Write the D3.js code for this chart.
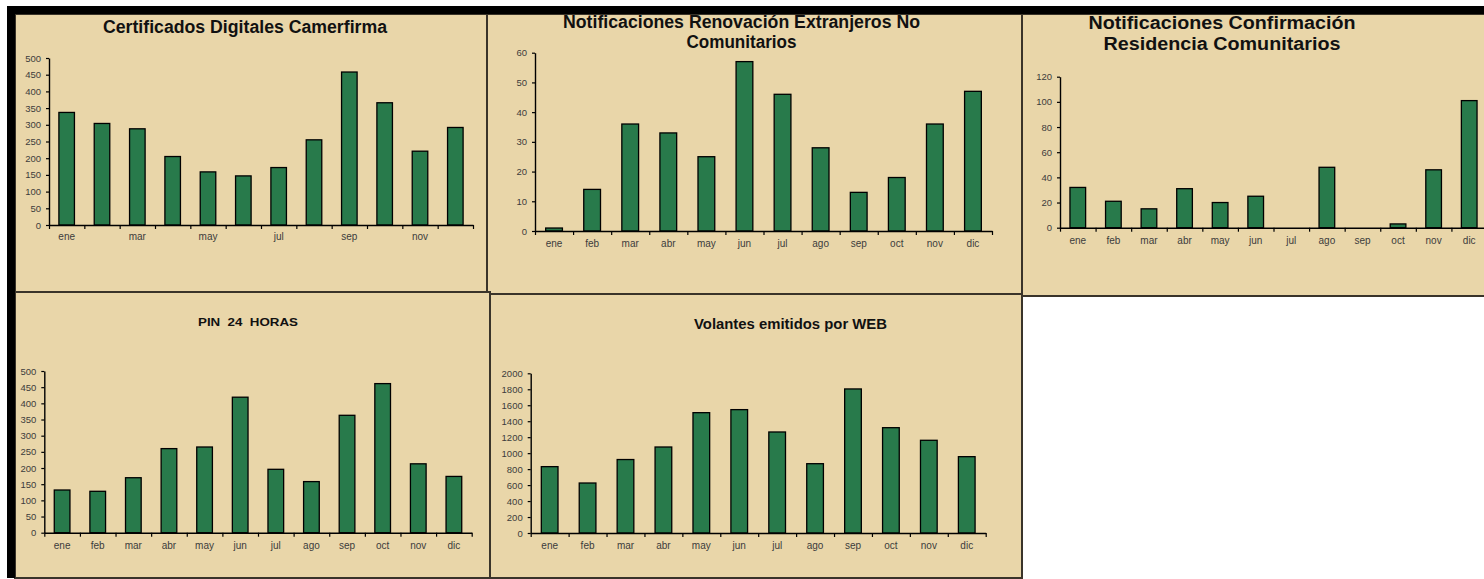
<!DOCTYPE html>
<html>
<head>
<meta charset="utf-8">
<script src="https://cdn.jsdelivr.net/npm/d3@7/dist/d3.min.js"></script>
<style>
  html, body { margin: 0; padding: 0; background: #ffffff; }
  svg { display: block; }
  text { font-family: "Liberation Sans", Arial, sans-serif; }
</style>
</head>
<body>
<svg id="chart" width="1484" height="579"></svg>
<script>
// ---- DATA ----
const months = ["ene","feb","mar","abr","may","jun","jul","ago","sep","oct","nov","dic"];

const certificadosValues = [337, 304, 288, 205, 159, 147, 172, 255, 458, 366, 221, 292];
const renovacionValues   = [1, 14, 36, 33, 25, 57, 46, 28, 13, 18, 36, 47];
const confirmacionValues = [32, 21, 15, 31, 20, 25, 0, 48, 0, 3, 46, 101];
const pinValues          = [132, 128, 170, 260, 265, 419, 196, 158, 363, 461, 213, 174];
const volantesValues     = [831, 626, 920, 1077, 1507, 1545, 1265, 868, 1804, 1319, 1161, 956];

const certificadosTicks = [0, 50, 100, 150, 200, 250, 300, 350, 400, 450, 500];
const renovacionTicks   = [0, 10, 20, 30, 40, 50, 60];
const confirmacionTicks = [0, 20, 40, 60, 80, 100, 120];
const pinTicks          = [0, 50, 100, 150, 200, 250, 300, 350, 400, 450, 500];
const volantesTicks     = [0, 200, 400, 600, 800, 1000, 1200, 1400, 1600, 1800, 2000];

const certificadosTitle = ["Certificados Digitales Camerfirma"];
const renovacionTitle   = ["Notificaciones Renovación Extranjeros No", "Comunitarios"];
const confirmacionTitle = ["Notificaciones Confirmación", "Residencia Comunitarios"];
const pinTitle          = ["PIN  24  HORAS"];
const volantesTitle     = ["Volantes emitidos por WEB"];

// ---- STYLE ----
const BG = "#e9d6a9";
const BORDER = "#3a342a";
const BAR = "#287a4b";
const TICKTXT = "#3c3c3c";

const svg = d3.select("#chart");

// panel backgrounds
const panels = [
  {x: 15,   y: 14,  x2: 487,  y2: 292},
  {x: 487,  y: 14,  x2: 1022, y2: 294},
  {x: 1022, y: 14,  x2: 1490, y2: 296},
  {x: 15,   y: 292, x2: 490,  y2: 578},
  {x: 490,  y: 294, x2: 1022, y2: 578}
];
svg.selectAll("rect.panel").data(panels).join("rect")
  .attr("class","panel")
  .attr("x", d => d.x).attr("y", d => d.y)
  .attr("width", d => d.x2 - d.x).attr("height", d => d.y2 - d.y)
  .attr("fill", BG).attr("stroke", BORDER).attr("stroke-width", 2);

// outer black frame (top + left)
svg.append("rect").attr("x", 7).attr("y", 6).attr("width", 1477).attr("height", 8).attr("fill", "#000");
svg.append("rect").attr("x", 7).attr("y", 6).attr("width", 8).attr("height", 572).attr("fill", "#000");

function drawChart(cfg) {
  const g = svg.append("g");
  const x = d3.scaleBand().domain(months).range([cfg.x0, cfg.x1]).paddingInner(0).paddingOuter(0);
  const xi = d3.scaleLinear().domain([0, 12]).range([cfg.x0, cfg.x1]);
  const y = d3.scaleLinear().domain([0, cfg.ticks[cfg.ticks.length - 1]]).range([cfg.y0, cfg.yTop]);
  const bw = x.bandwidth() * 0.44;

  // bars
  g.selectAll("rect.bar").data(cfg.values).join("rect")
    .attr("class", "bar")
    .attr("x", (d, i) => x(months[i]) + (x.bandwidth() - bw) / 2)
    .attr("width", bw)
    .attr("y", d => y(d))
    .attr("height", d => cfg.y0 - y(d))
    .attr("fill", BAR)
    .attr("stroke", d => d > 0 ? "#000" : "none")
    .attr("stroke-width", 1.3);

  // y axis
  const ya = g.append("g").attr("transform", `translate(${cfg.x0},0)`)
    .call(d3.axisLeft(y).tickValues(cfg.ticks).tickFormat(d3.format("d"))
      .tickSize(3).tickPadding(5).tickSizeOuter(0));
  ya.select(".domain").attr("stroke", "#000").attr("stroke-width", 1.4);
  ya.selectAll(".tick line").attr("stroke", "#000").attr("stroke-width", 1.2);
  ya.selectAll(".tick text").attr("fill", TICKTXT).style("font-size", "9.5px")
    .style("font-family", '"Liberation Sans", Arial, sans-serif');

  // x axis boundary ticks
  const xt = g.append("g").attr("transform", `translate(0,${cfg.y0})`)
    .call(d3.axisBottom(xi).tickValues(d3.range(13)).tickFormat("").tickSize(4).tickSizeOuter(0));
  xt.select(".domain").attr("stroke", "#000").attr("stroke-width", 1.4);
  xt.selectAll(".tick line").attr("stroke", "#000").attr("stroke-width", 1.2);

  // x labels
  const xl = g.append("g").attr("transform", `translate(0,${cfg.y0})`)
    .call(d3.axisBottom(x).tickSize(0).tickPadding(cfg.labelPad)
      .tickFormat((d, i) => cfg.every2 && i % 2 === 1 ? "" : d));
  xl.select(".domain").remove();
  xl.selectAll(".tick text").attr("fill", TICKTXT).style("font-size", "10px")
    .style("font-family", '"Liberation Sans", Arial, sans-serif');

  // title
  cfg.title.forEach((t, i) => {
    g.append("text")
      .attr("x", cfg.tx).attr("y", cfg.ty + i * cfg.tlh)
      .attr("text-anchor", "middle")
      .attr("dominant-baseline", "middle")
      .attr("fill", "#111")
      .attr("textLength", cfg.tw[i])
      .attr("lengthAdjust", "spacingAndGlyphs")
      .style("white-space", "pre")
      .style("font-weight", "bold")
      .style("font-size", cfg.tsize + "px")
      .text(t);
  });
}

drawChart({values: certificadosValues, ticks: certificadosTicks, title: certificadosTitle,
  x0: 49, x1: 473, yTop: 58, y0: 225, labelPad: 8, every2: true,
  tx: 245, ty: 28, tlh: 0, tsize: 17.5, tw: [284]});
drawChart({values: renovacionValues, ticks: renovacionTicks, title: renovacionTitle,
  x0: 535, x1: 992, yTop: 52.7, y0: 231, labelPad: 9, every2: false,
  tx: 741.5, ty: 23, tlh: 20.5, tsize: 17.5, tw: [357, 110]});
drawChart({values: confirmacionValues, ticks: confirmacionTicks, title: confirmacionTitle,
  x0: 1060, x1: 1487, yTop: 76.7, y0: 227.7, labelPad: 9, every2: false,
  tx: 1222, ty: 24, tlh: 21.5, tsize: 18, tw: [267, 237]});
drawChart({values: pinValues, ticks: pinTicks, title: pinTitle,
  x0: 44.3, x1: 471.7, yTop: 371, y0: 532.7, labelPad: 9, every2: false,
  tx: 248, ty: 323, tlh: 0, tsize: 11.5, tw: [100]});
drawChart({values: volantesValues, ticks: volantesTicks, title: volantesTitle,
  x0: 530.7, x1: 985.7, yTop: 373.3, y0: 533, labelPad: 9, every2: false,
  tx: 790.5, ty: 325, tlh: 0, tsize: 14, tw: [193]});
</script>
</body>
</html>
